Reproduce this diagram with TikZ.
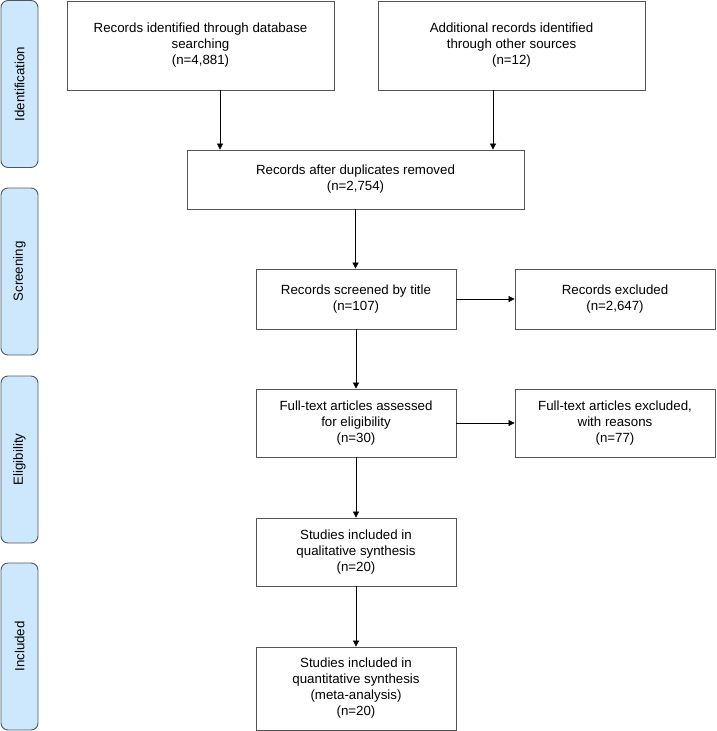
\documentclass[tikz,border=0pt]{standalone}
\usepackage{fontspec}
\setmainfont{Liberation Sans}
\usepackage{xcolor}
\usepackage{tikz}
\usetikzlibrary{arrows.meta, positioning, calc}
\definecolor{phasefill}{HTML}{CDE8FD}
\definecolor{phaseline}{HTML}{4F5862}
\definecolor{boxline}{HTML}{555555}

\tikzset{
  phase/.style={draw=phaseline, line width=0.9pt, fill=phasefill, rounded corners=7pt,
    minimum width=37pt, minimum height=167pt, inner sep=0pt},
  phasetext/.style={rotate=90, font=\fontsize{13.3}{16}\selectfont},
  prbox/.style={draw=boxline, line width=0.8pt, fill=white, align=center, inner sep=2pt,
    font=\fontsize{13.3}{16}\selectfont},
  arr/.style={-{Triangle[length=6pt,width=6pt]}, line width=0.7pt, black}
}

\begin{document}
\begin{tikzpicture}[x=1pt, y=-1pt]
  % Page frame
  \useasboundingbox (0,0) rectangle (716,731);

  % Phase bars (LEFT SIDE)
  \node[phase] (idph) at (19.5, 84) {};
  \node[phasetext] at (idph) {Identification};
  \node[phase] (scph) at (19.5, 271.5) {};
  \node[phasetext] at (scph) {Screening};
  \node[phase] (elph) at (19.5, 459.5) {};
  \node[phasetext] at (elph) {Eligibility};
  \node[phase] (inph) at (19.5, 646.5) {};
  \node[phasetext] at (inph) {Included};

  % Identification
  \node[prbox, minimum width=267pt, minimum height=89pt] (dbrec) at (200.5, 45.5)
    {Records identified through database\\searching\\(n=4,881)};
  \node[prbox, minimum width=267pt, minimum height=89pt] (otherrec) at (511.5, 45.5)
    {Additional records identified\\through other sources\\(n=12)};

  % Screening
  \node[prbox, minimum width=337pt, minimum height=59pt] (dedup) at (355.5, 179.5)
    {Records after duplicates removed\\(n=2,754)};
  \node[prbox, minimum width=200pt, minimum height=60pt] (screened) at (356, 299)
    {Records screened by title\\(n=107)};
  \node[prbox, minimum width=200pt, minimum height=60pt] (excl) at (615, 299)
    {Records excluded\\(n=2,647)};

  % Eligibility
  \node[prbox, minimum width=200pt, minimum height=68pt] (fulltext) at (356, 423)
    {Full-text articles assessed\\for eligibility\\(n=30)};
  \node[prbox, minimum width=200pt, minimum height=68pt] (ftexcl) at (615, 423)
    {Full-text articles excluded,\\with reasons\\(n=77)};

  % Included
  \node[prbox, minimum width=200pt, minimum height=68pt] (qual) at (356, 552)
    {Studies included in\\qualitative synthesis\\(n=20)};
  \node[prbox, minimum width=200pt, minimum height=83pt] (quant) at (356, 688.5)
    {Studies included in\\quantitative synthesis\\(meta-analysis)\\(n=20)};

  % Connectors
  \draw[arr] ([xshift=19.5pt]dbrec.south) -- ([xshift=19.5pt]dbrec.south |- dedup.north);
  \draw[arr] ([xshift=-18.5pt]otherrec.south) -- ([xshift=-18.5pt]otherrec.south |- dedup.north);
  \draw[arr] (dedup.south) -- (dedup.south |- screened.north);
  \draw[arr] (screened) -- (excl);
  \draw[arr] (screened) -- (fulltext);
  \draw[arr] (fulltext) -- (ftexcl);
  \draw[arr] (fulltext) -- (qual);
  \draw[arr] (qual) -- (quant);
\end{tikzpicture}
\end{document}
